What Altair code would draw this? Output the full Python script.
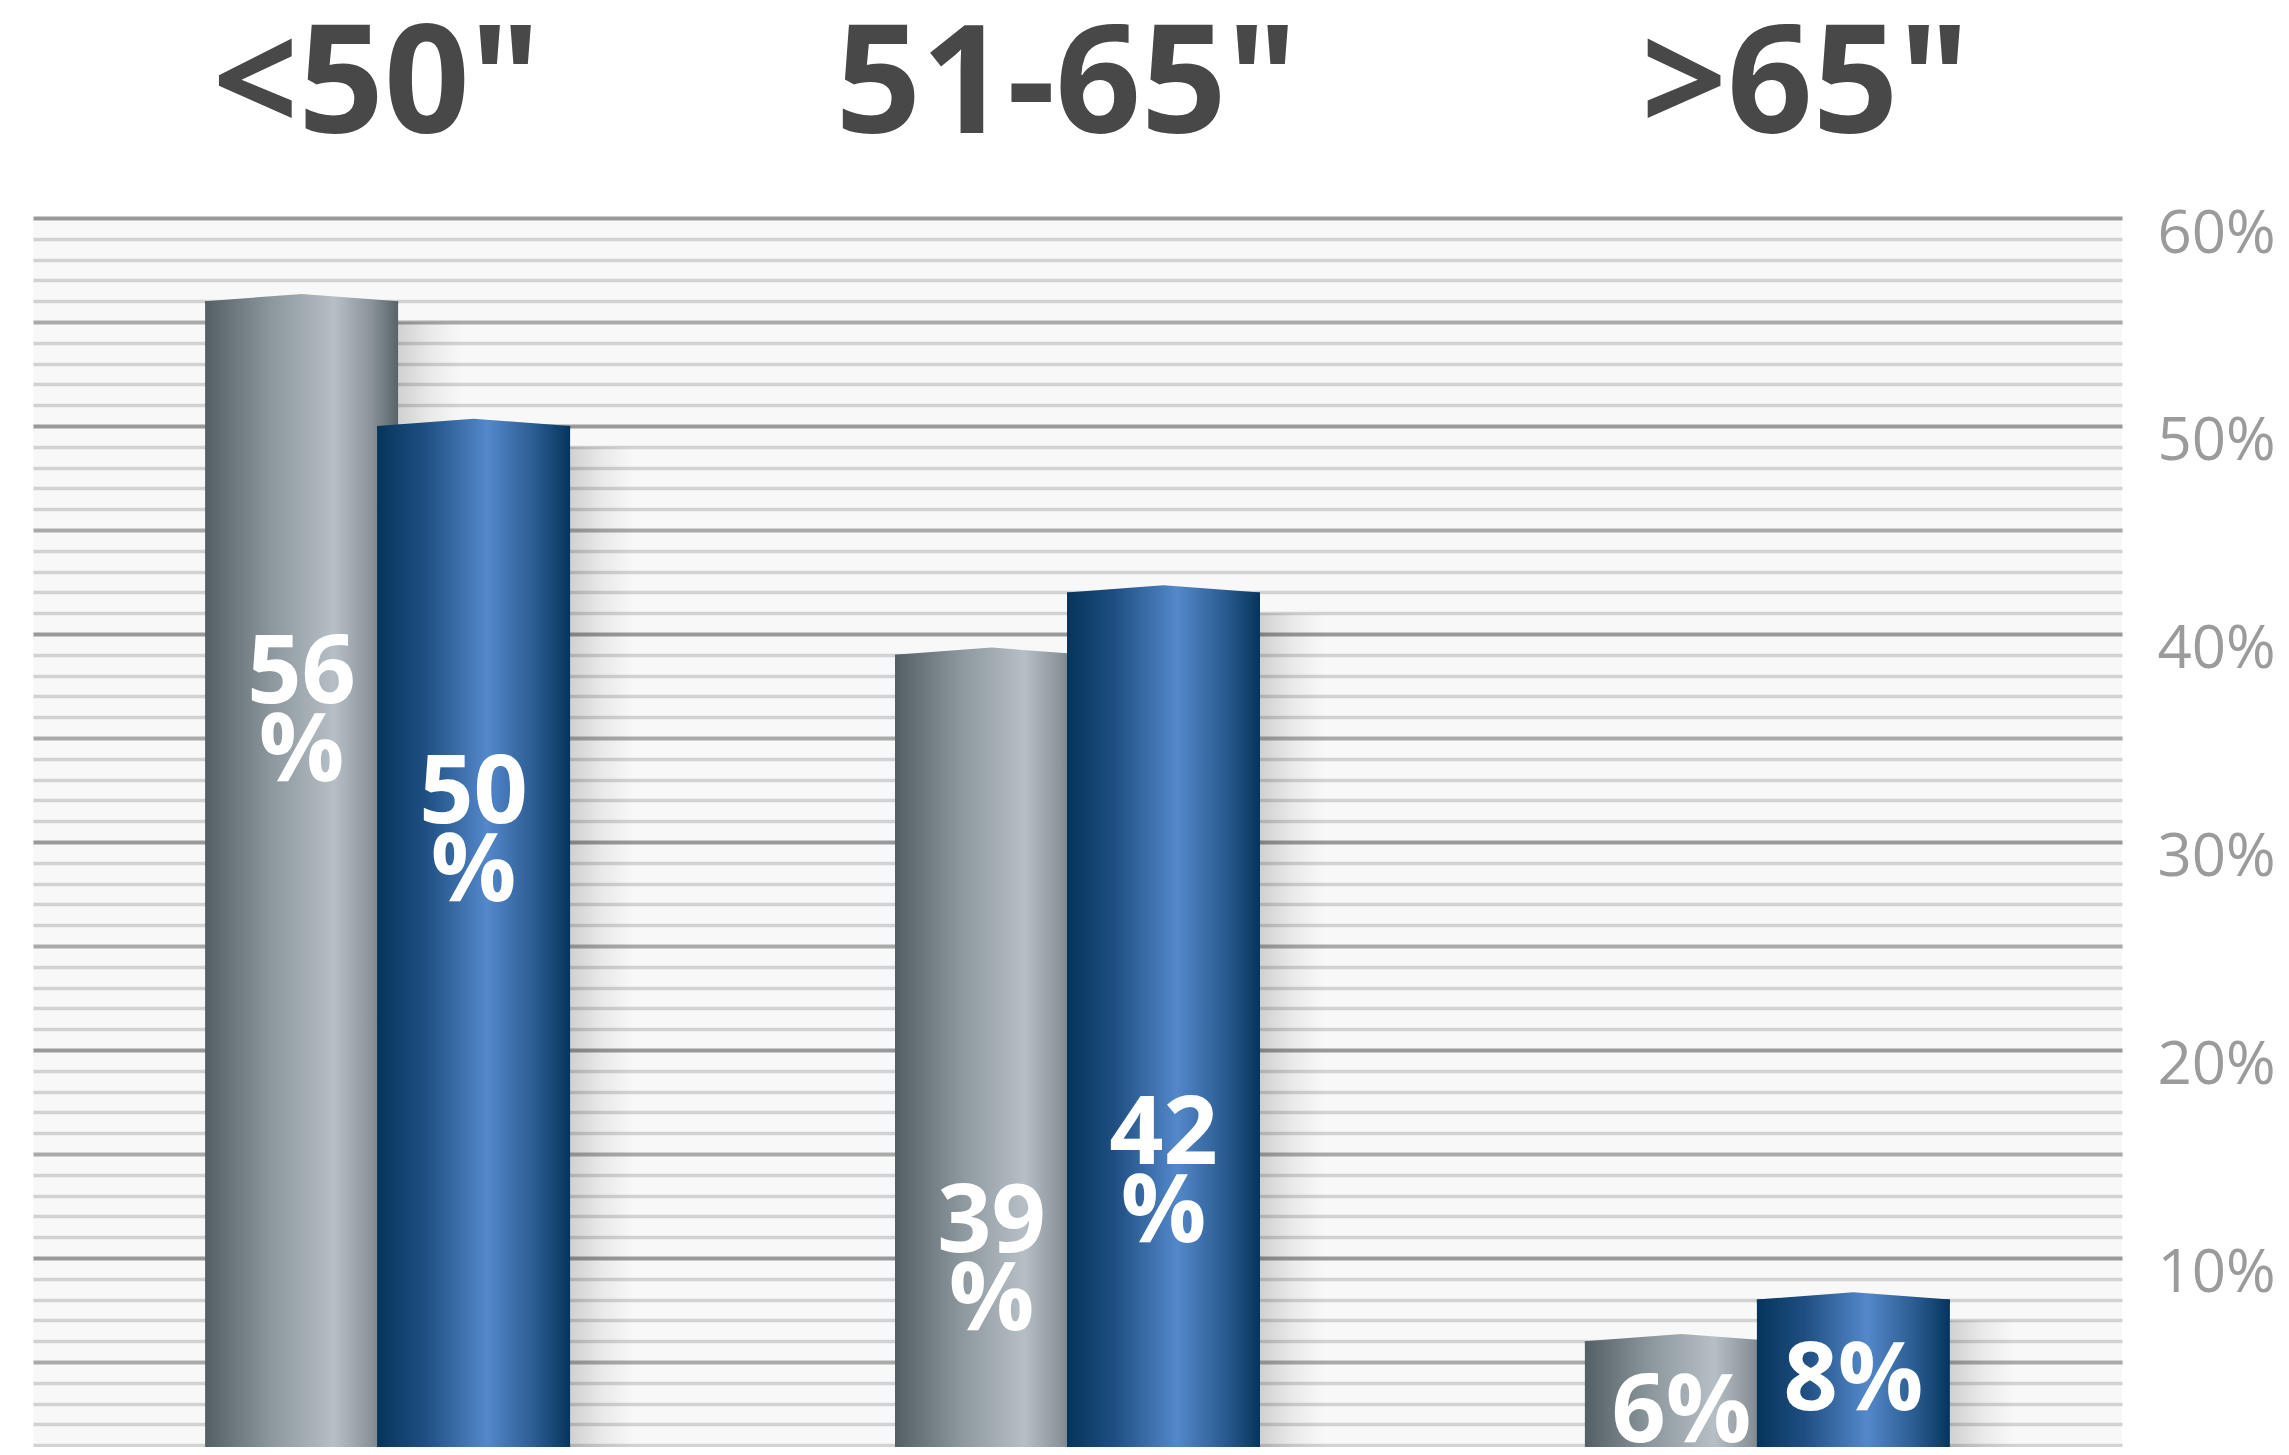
import altair as alt
import pandas as pd

# ---------------- data ----------------
groups = ['<50"', '51-65"', '>65"']
grey_values = [56, 39, 6]
blue_values = [50, 42, 8]
label_two_lines = [True, True, False]
y_ticks = list(range(1, 61))

# ---------------- style ----------------
PLOT_W, PLOT_H = 2089, 1229
Y_MIN, Y_MAX = 0.913, 60
BAR_W = 193
OFF = 86
SHADOW_W = 64
# label baseline drop below the bar top (data units), per group
drop_grey = [19.3, 28.7, 4.85]
drop_blue = [19.1, 27.5, 5.3]


def frame(values, drops):
    return pd.DataFrame({
        "group": groups,
        "value": values,
        "label": [f"{v}\n%" if two else f"{v}%" for v, two in zip(values, label_two_lines)],
        "label_y": [v - d for v, d in zip(values, drops)],
    })


grey_df = frame(grey_values, drop_grey)
blue_df = frame(blue_values, drop_blue)
title_df = pd.DataFrame({"group": groups})

grid_color = {
    "condition": [
        {"test": "datum.value % 10 === 0", "value": "#999999"},
        {"test": "datum.value % 5 === 0", "value": "#a9a9a9"},
    ],
    "value": "#d2d2d2",
}
grid_width = {"condition": [{"test": "datum.value % 5 === 0", "value": 4}], "value": 3.6}

y_axis = alt.Axis(
    orient="right", values=y_ticks,
    labelExpr="datum.value % 10 === 0 ? datum.value + '%' : ''",
    labelOverlap=False, ticks=False, domain=False, grid=True,
    gridColor=grid_color, gridWidth=grid_width,
    labelFontSize=60, labelFont="Open Sans", labelColor="#9b9b9b",
    labelPadding=35, labelBaseline="alphabetic", labelOffset=34, title=None,
)
y_scale = alt.Scale(domain=[Y_MIN, Y_MAX], nice=False, zero=False)


def Y(field):
    return alt.Y(field, type="quantitative", scale=y_scale, axis=y_axis, title=None)


X = alt.X("group:N", sort=groups,
          scale=alt.Scale(domain=groups, paddingInner=0, paddingOuter=0.014),
          axis=None)


def grad(stops):
    return alt.Gradient(gradient="linear", x1=0, x2=1, y1=0, y2=0,
                        stops=[alt.GradientStop(color=c, offset=o) for o, c in stops])


grey_grad = grad([(0, "#535e65"), (0.35, "#8e989f"), (0.67, "#b7bfc6"),
                  (0.86, "#8a9399"), (1, "#58636a")])
blue_grad = grad([(0, "#05345c"), (0.25, "#1f4f82"), (0.57, "#5388ca"),
                  (0.82, "#2a5b90"), (1, "#05355d")])
shadow_grad = grad([(0, "rgba(0,0,0,0.16)"), (0.5, "rgba(0,0,0,0.06)"), (1, "rgba(0,0,0,0)")])

ROOF = "M-1,0.04 L-1,0 L0,-0.075 L1,0 L1,0.04 Z"


def shadow(df, off):
    return alt.Chart(df).transform_calculate(top="datum.value - 1").mark_bar(
        size=SHADOW_W, xOffset=off + BAR_W / 2 + SHADOW_W / 2, fill=shadow_grad,
        strokeWidth=0, clip=True
    ).encode(x=X, y=Y("top"), y2=alt.datum(0))


def bars(df, off, g):
    return alt.Chart(df).mark_bar(
        size=BAR_W, xOffset=off, fill=g, strokeWidth=0, clip=True
    ).encode(x=X, y=Y("value"), y2=alt.datum(0))


def roof(df, off, g):
    return alt.Chart(df).mark_point(
        shape=ROOF, size=BAR_W ** 2, filled=True, fill=g, opacity=1,
        strokeWidth=0, xOffset=off
    ).encode(x=X, y=Y("value"))


def labels(df, off):
    return alt.Chart(df).mark_text(
        font="Open Sans", fontWeight="bold", fontSize=95, color="white",
        lineBreak="\n", lineHeight=78, baseline="alphabetic", align="center",
        xOffset=off
    ).encode(x=X, y=Y("label_y"), text="label:N")


titles = alt.Chart(title_df).mark_text(
    font="Open Sans", fontWeight="bold", fontSize=150, color="#484848",
    baseline="alphabetic", align="center",
    dx={"expr": "substring(datum.group, 0, 1) === '>' ? 38 : -11"},
).encode(x=X, y=alt.value(-85), text="group:N")

chart = alt.layer(
    shadow(grey_df, -OFF), shadow(blue_df, OFF),
    bars(grey_df, -OFF, grey_grad), roof(grey_df, -OFF, grey_grad),
    bars(blue_df, OFF, blue_grad), roof(blue_df, OFF, blue_grad),
    labels(grey_df, -OFF), labels(blue_df, OFF),
    titles,
).properties(
    width=PLOT_W, height=PLOT_H,
    padding={"left": 25, "top": 210, "right": 159, "bottom": 0},
    autosize=alt.AutoSizeParams(type="none"),
    background="white",
).configure_view(fill="#f8f8f8", strokeWidth=0)

chart.save("out.html", embed_options={"renderer": "svg", "actions": False})
